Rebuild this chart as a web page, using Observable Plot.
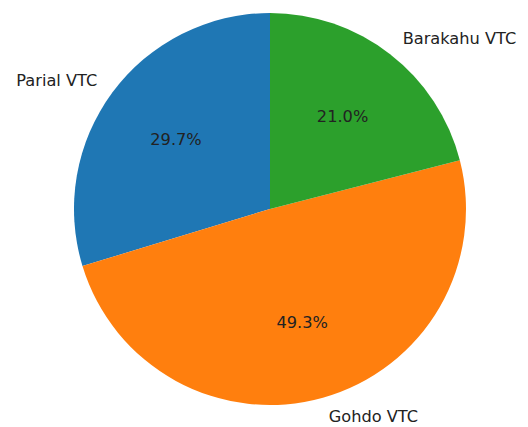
<!DOCTYPE html>
<html><head><meta charset="utf-8">
<script src="https://cdn.jsdelivr.net/npm/d3@7"></script>
<script src="https://cdn.jsdelivr.net/npm/@observablehq/plot@0.6"></script>
<style>body{margin:0;background:#fff}</style>
</head><body><div id="chart"></div>
<script>
const labels = ["Parial VTC", "Gohdo VTC", "Barakahu VTC"];
const shares = [29.7, 49.3, 21.0];
const colors = ["#1f77b4", "#ff7f0e", "#2ca02c"];
const startAngle = 90;          // degrees, counterclockwise from 3 o'clock
const labelDistance = 1.1;
const pctDistance = 0.6;

const total = d3.sum(shares);
let acc = 0;
const slices = labels.map((label, i) => {
  const t0 = acc / total; acc += shares[i]; const t1 = acc / total;
  const mid = (startAngle + 360 * (t0 + t1) / 2) * Math.PI / 180;
  return {label, share: shares[i], color: colors[i], t0, t1, cos: Math.cos(mid), sin: Math.sin(mid)};
});

const outer = slices.map(s => ({text: s.label, x: labelDistance * s.cos, y: labelDistance * s.sin, left: s.cos > 0}));
const inner = slices.map(s => ({text: s.share.toFixed(1) + "%", x: pctDistance * s.cos, y: pctDistance * s.sin}));

function wedges(index, scales) {
  const cx = scales.x(0), cy = scales.y(0), r = scales.x(1) - cx;
  const arc = d3.arc().innerRadius(0).outerRadius(r);
  const g = d3.create("svg:g").attr("transform", `translate(${cx},${cy})`);
  for (const s of slices) {
    g.append("path")
      .attr("d", arc({startAngle: -2 * Math.PI * s.t0, endAngle: -2 * Math.PI * s.t1}))
      .attr("fill", s.color);
  }
  return g.node();
}

const R = 196, CX = 270, CY = 209, W = 528, H = 427;
const font = {fontFamily: "DejaVu Sans", fontSize: 16.2, fill: "#222"};

const chart = Plot.plot({
  width: W, height: H, margin: 0,
  x: {domain: [-CX / R, (W - CX) / R], axis: null},
  y: {domain: [-(H - CY) / R, CY / R], axis: null},
  marks: [
    wedges,
    Plot.text(outer.filter(d => d.left), {x: "x", y: "y", text: "text", textAnchor: "start", ...font}),
    Plot.text(outer.filter(d => !d.left), {x: "x", y: "y", text: "text", textAnchor: "end", ...font}),
    Plot.text(inner, {x: "x", y: "y", text: "text", ...font})
  ]
});
document.getElementById("chart").append(chart);
</script>
</body></html>
